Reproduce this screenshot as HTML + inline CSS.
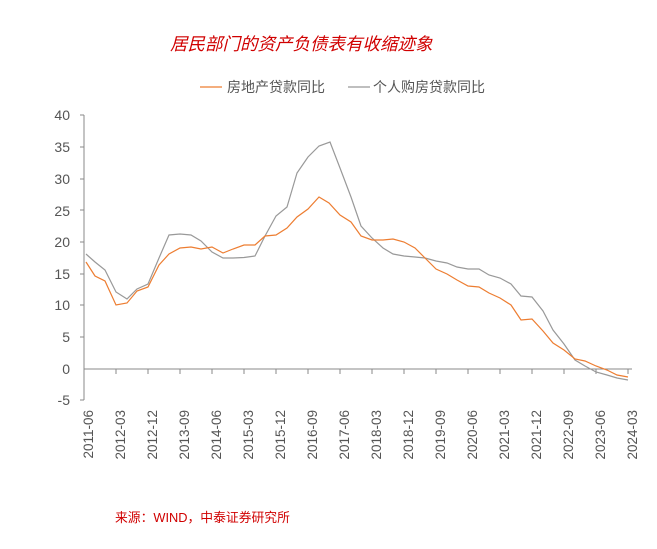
<!DOCTYPE html>
<html><head><meta charset="utf-8"><style>
body{margin:0;background:#fff;}
svg text{font-family:"Liberation Sans","Noto Sans CJK SC",sans-serif;}
</style></head><body>
<svg width="657" height="544" xmlns="http://www.w3.org/2000/svg">
<text x="170" y="50" font-size="17.5" fill="#d00000" font-style="italic">居民部门的资产负债表有收缩迹象</text>
<line x1="200" y1="87" x2="222" y2="87" stroke="#ed7d31" stroke-width="1.2"/>
<text x="227" y="92" font-size="14" fill="#555">房地产贷款同比</text>
<line x1="348" y1="87" x2="370" y2="87" stroke="#999" stroke-width="1.2"/>
<text x="373" y="92" font-size="14" fill="#555">个人购房贷款同比</text>
<g font-size="14" fill="#555" text-anchor="end">
<text x="70" y="120">40</text><text x="70" y="152">35</text><text x="70" y="184">30</text>
<text x="70" y="247">20</text><text x="70" y="216">25</text><text x="70" y="279">15</text>
<text x="70" y="310">10</text><text x="70" y="342">5</text><text x="70" y="374">0</text>
<text x="70" y="405">-5</text>
</g>
<line x1="84" y1="115" x2="84" y2="400" stroke="#888" stroke-width="1"/>
<line x1="84" y1="369" x2="632" y2="369" stroke="#888" stroke-width="1"/>
<g stroke="#888">
<line x1="80" y1="115" x2="84" y2="115"/><line x1="80" y1="147" x2="84" y2="147"/><line x1="80" y1="179" x2="84" y2="179"/><line x1="80" y1="210" x2="84" y2="210"/><line x1="80" y1="242" x2="84" y2="242"/><line x1="80" y1="274" x2="84" y2="274"/><line x1="80" y1="305" x2="84" y2="305"/><line x1="80" y1="337" x2="84" y2="337"/><line x1="80" y1="400" x2="84" y2="400"/>
<line x1="116" y1="369" x2="116" y2="374"/><line x1="148" y1="369" x2="148" y2="374"/><line x1="180" y1="369" x2="180" y2="374"/><line x1="212" y1="369" x2="212" y2="374"/><line x1="244" y1="369" x2="244" y2="374"/><line x1="276" y1="369" x2="276" y2="374"/><line x1="308" y1="369" x2="308" y2="374"/><line x1="340" y1="369" x2="340" y2="374"/><line x1="372" y1="369" x2="372" y2="374"/><line x1="404" y1="369" x2="404" y2="374"/><line x1="436" y1="369" x2="436" y2="374"/><line x1="468" y1="369" x2="468" y2="374"/><line x1="500" y1="369" x2="500" y2="374"/><line x1="532" y1="369" x2="532" y2="374"/><line x1="564" y1="369" x2="564" y2="374"/><line x1="596" y1="369" x2="596" y2="374"/><line x1="628" y1="369" x2="628" y2="374"/>
</g>
<g font-size="13.5" fill="#555" text-anchor="end">
<text transform="translate(93,410) rotate(-90)">2011-06</text>
<text transform="translate(125,410) rotate(-90)">2012-03</text>
<text transform="translate(157,410) rotate(-90)">2012-12</text>
<text transform="translate(189,410) rotate(-90)">2013-09</text>
<text transform="translate(221,410) rotate(-90)">2014-06</text>
<text transform="translate(253,410) rotate(-90)">2015-03</text>
<text transform="translate(285,410) rotate(-90)">2015-12</text>
<text transform="translate(317,410) rotate(-90)">2016-09</text>
<text transform="translate(349,410) rotate(-90)">2017-06</text>
<text transform="translate(381,410) rotate(-90)">2018-03</text>
<text transform="translate(413,410) rotate(-90)">2018-12</text>
<text transform="translate(445,410) rotate(-90)">2019-09</text>
<text transform="translate(477,410) rotate(-90)">2020-06</text>
<text transform="translate(509,410) rotate(-90)">2021-03</text>
<text transform="translate(541,410) rotate(-90)">2021-12</text>
<text transform="translate(573,410) rotate(-90)">2022-09</text>
<text transform="translate(605,410) rotate(-90)">2023-06</text>
<text transform="translate(637,410) rotate(-90)">2024-03</text>
</g>
<polyline fill="none" stroke="#999" stroke-width="1.2" points="86,254 95,262 105,270 116,292 127,299 137,289 148,284 159,258 169,235 180,234 191,235 201,241 212,252 223,258 233,258 244,257.5 255,256 265,236 276,216 287,207 297,173 308,157 319,146 330,142 340,168 351,197 361,226 372,238 383,248 393,254 404,256 415,257 425,258 436,261 447,263 457,267 468,269 479,269 489,275 500,278 511,284 521,296 532,297 543,311 553,330 564,344 575,360 585,366 596,372 607,375 617,378 628,380"/>
<polyline fill="none" stroke="#ed7d31" stroke-width="1.2" points="86,262 95,276 105,281 116,305 127,303 137,291 148,287 159,265 169,254 180,248 191,247 201,249 212,247 223,253 233,249 244,245 255,245 265,236 276,235 287,228 297,217 308,209 319,197 329,203 340,215 351,222 361,236 372,240 383,240 393,239 404,242 415,248 425,258 436,269 447,274 457,280 468,286 479,287 489,293 500,298 511,305 521,320 532,319 543,331 553,343 564,350 575,359 585,361 596,366 607,370 617,375 628,377"/>
<text x="115" y="522" font-size="12.8" fill="#d00000">来源：WIND，中泰证券研究所</text>
</svg>
</body></html>
